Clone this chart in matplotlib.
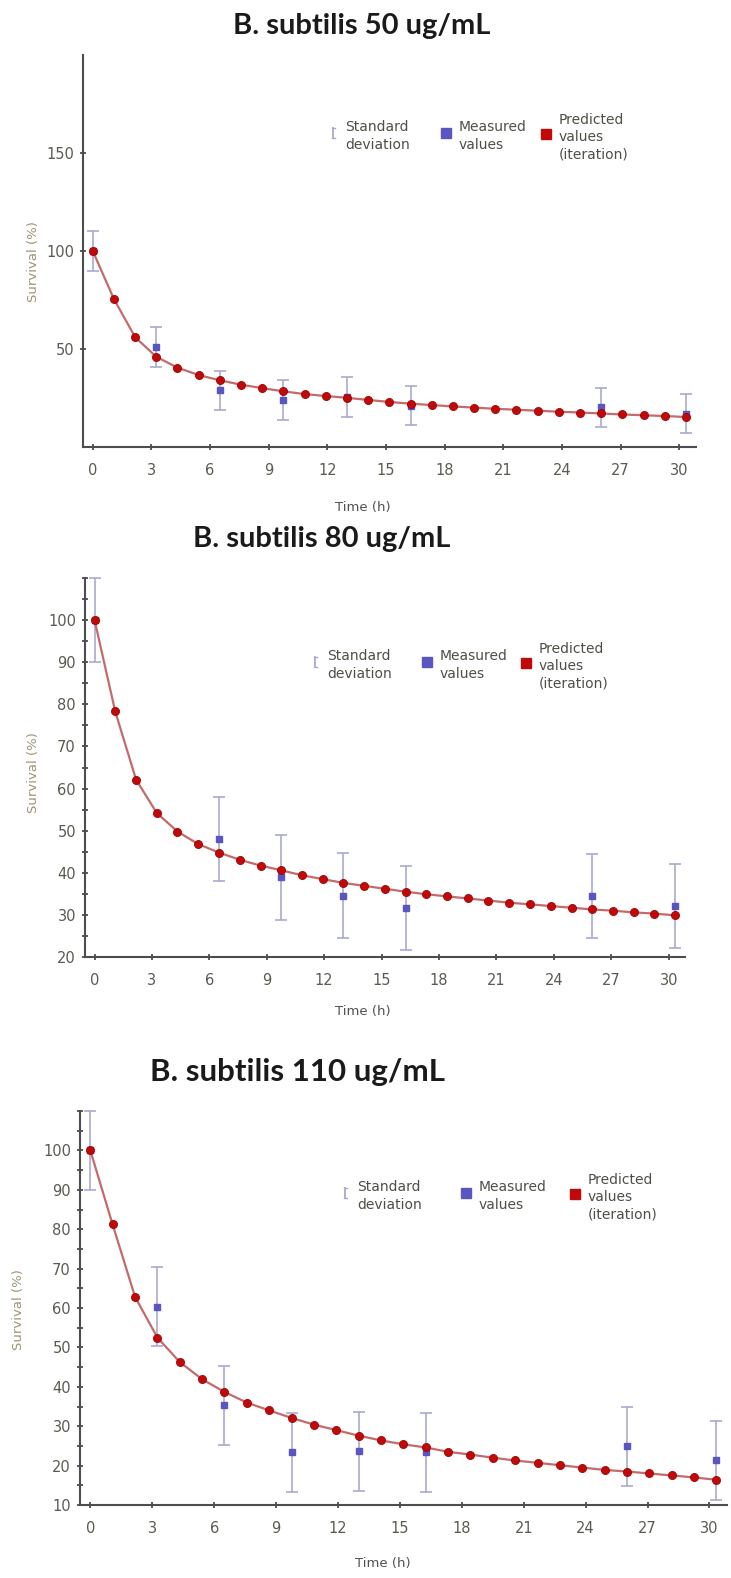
import matplotlib
matplotlib.use('Agg')
import matplotlib.pyplot as plt
from matplotlib.lines import Line2D
from matplotlib.transforms import Affine2D
from matplotlib.ticker import MultipleLocator

W, H = 731, 1578

# sampling times of the iteration (h) and of the measurements
hours = [0, 1.08, 2.17, 3.25, 4.33, 5.42, 6.5, 7.58, 8.67, 9.75, 10.83, 11.92, 13.0,
         14.08, 15.17, 16.25, 17.33, 18.42, 19.5, 20.58, 21.67, 22.75, 23.83, 24.92,
         26.0, 27.08, 28.17, 29.25, 30.33]
meas_hours = [0, 3.25, 6.5, 9.75, 13.0, 16.25, 26.0, 30.33]
meas_hours_80 = [0, 6.5, 9.75, 13.0, 16.25, 26.0, 30.33]

# 50 ug/mL
pred_50 = [100, 75.5, 56.0, 46.0, 40.5, 36.7, 34.0, 31.8, 30.0, 28.4, 27.0, 26.0, 25.1,
           24.0, 23.0, 22.1, 21.4, 20.7, 20.1, 19.5, 19.0, 18.5, 18.0, 17.6, 17.1, 16.6,
           16.2, 15.8, 15.3]
meas_50 = [100, 51.0, 29.0, 24.0, 25.5, 21.0, 20.3, 17.0]
sd_50 = [10, 10, 10, 10, 10, 10, 10, 10]

# 80 ug/mL
pred_80 = [100, 78.3, 62.1, 54.2, 49.8, 46.8, 44.8, 43.1, 41.7, 40.6, 39.4, 38.5, 37.6,
           36.9, 36.2, 35.5, 34.9, 34.4, 33.9, 33.4, 32.9, 32.5, 32.1, 31.7, 31.3, 31.0,
           30.6, 30.3, 29.9]
meas_80 = [100, 48.0, 38.9, 34.6, 31.7, 34.4, 32.1]
sd_80 = [10, 10, 10, 10, 10, 10, 10]

# 110 ug/mL
pred_110 = [100, 81.2, 62.8, 52.5, 46.3, 41.9, 38.7, 36.0, 34.0, 32.1, 30.4, 29.0, 27.6,
            26.4, 25.4, 24.6, 23.5, 22.8, 22.0, 21.3, 20.7, 20.1, 19.5, 18.9, 18.5, 18.0,
            17.5, 17.0, 16.4]
meas_110 = [100, 60.3, 35.3, 23.4, 23.6, 23.4, 24.9, 21.3]
sd_110 = [10, 10, 10, 10, 10, 10, 10, 10]

titles = ['B. subtilis 50 ug/mL', 'B. subtilis 80 ug/mL', 'B. subtilis 110 ug/mL']
x_ticks = [0, 3, 6, 9, 12, 15, 18, 21, 24, 27, 30]

PRED_C = '#c00a0a'
LINE_C = '#c46a6a'
MEAS_C = '#5a55c0'
ERR_C = '#a9a9cf'
AXIS_C = '#4d4d4d'
TICK_C = '#5c5a50'
YLAB_C = '#9d9472'
LEG_C = '#4d5045'

# top-left pixel coordinates -> display
top_px = Affine2D().scale(1, -1).translate(0, H)

fig = plt.figure(figsize=(W / 100, H / 100), dpi=100)
fig.patch.set_facecolor('white')


def add_axes_px(left, top, right, bottom):
    return fig.add_axes([left / W, 1 - bottom / H, (right - left) / W, (bottom - top) / H])


def draw_panel(ax, pred, mt, mv, sd, ylim, yticks, minor):
    ax.plot(hours, pred, color=LINE_C, lw=1.6, zorder=2)
    ax.errorbar(mt, mv, yerr=sd, fmt='none', ecolor=ERR_C, elinewidth=1.2,
                capsize=4.5, capthick=1.2, zorder=1, clip_on=False)
    ax.plot(mt, mv, 's', color=MEAS_C, ms=4.4, mec=MEAS_C, zorder=3, clip_on=False)
    ax.plot(hours, pred, 'o', color=PRED_C, ms=5.8, mec='#a00000', mew=0.6, zorder=4,
            clip_on=False)

    ax.set_xlim(-0.5, 30.85)
    ax.set_ylim(*ylim)
    ax.set_xticks(x_ticks)
    ax.set_yticks(yticks)
    if minor:
        ax.yaxis.set_minor_locator(MultipleLocator(5))
    for s in ['top', 'right']:
        ax.spines[s].set_visible(False)
    for s in ['left', 'bottom']:
        ax.spines[s].set_color(AXIS_C)
        ax.spines[s].set_linewidth(1.5)
    ax.tick_params(which='both', direction='inout', color=AXIS_C, width=1.3)
    ax.tick_params(axis='x', length=5, pad=9, labelsize=10.5, labelcolor=TICK_C)
    ax.tick_params(axis='y', length=5, pad=4, labelsize=10.5, labelcolor=TICK_C)
    ax.tick_params(axis='y', which='minor', length=4)


def draw_legend(sd_x, meas_x, pred_x, yc):
    icon_y = yc - 3
    # standard deviation icon: tiny capped bar
    fig.add_artist(Line2D([sd_x, sd_x], [icon_y - 5, icon_y + 5], color=ERR_C, lw=1.3,
                          transform=top_px))
    for dy in (-5, 5):
        fig.add_artist(Line2D([sd_x - 1.5, sd_x + 1.5], [icon_y + dy, icon_y + dy],
                              color=ERR_C, lw=1.0, transform=top_px))
    fig.add_artist(Line2D([meas_x], [icon_y], marker='s', ms=7.5, color=MEAS_C, lw=0,
                          transform=top_px))
    fig.add_artist(Line2D([pred_x], [icon_y + 1], marker='s', ms=7.5, color=PRED_C, lw=0,
                          transform=top_px))
    kw = dict(transform=top_px, ha='left', va='center', fontsize=10, color=LEG_C,
              linespacing=1.3)
    fig.text(sd_x + 12, yc, 'Standard\ndeviation', **kw)
    fig.text(meas_x + 13, yc, 'Measured\nvalues', **kw)
    fig.text(pred_x + 13, yc + 1, 'Predicted\nvalues\n(iteration)', **kw)


# panel geometry in pixels: axes box, title centre, label centres, legend
ax1 = add_axes_px(83, 55, 696, 447)
ax2 = add_axes_px(85, 578, 685, 957)
ax3 = add_axes_px(80, 1111, 727, 1505)

draw_panel(ax1, pred_50, meas_hours, meas_50, sd_50, (0, 200), [50, 100, 150], False)
draw_panel(ax2, pred_80, meas_hours_80, meas_80, sd_80, (20, 110),
           [20, 30, 40, 50, 60, 70, 80, 90, 100], True)
draw_panel(ax3, pred_110, meas_hours, meas_110, sd_110, (10, 110),
           [10, 20, 30, 40, 50, 60, 70, 80, 90, 100], True)

title_kw = dict(transform=top_px, ha='center', va='center', fontfamily='Lato',
                fontweight='bold', color='#1a1a1a')
fig.text(362, 26, titles[0], fontsize=21, **title_kw)
fig.text(322, 539, titles[1], fontsize=21, **title_kw)
fig.text(298, 1072, titles[2], fontsize=22.5, **title_kw)

lab_kw = dict(transform=top_px, ha='center', va='center', fontsize=9.5)
for (x, y) in [(33, 262), (33, 773), (19, 1310)]:
    fig.text(x, y, 'Survival (%)', rotation=90, color=YLAB_C, **lab_kw)
for (x, y) in [(363, 507), (363, 1011), (383, 1564)]:
    fig.text(x, y, 'Time (h)', color='#505050', **lab_kw)

draw_legend(333, 446, 546, 136)
draw_legend(315, 427, 526, 665)
draw_legend(345, 466, 575, 1196)

fig.savefig('out.png', dpi=100)
